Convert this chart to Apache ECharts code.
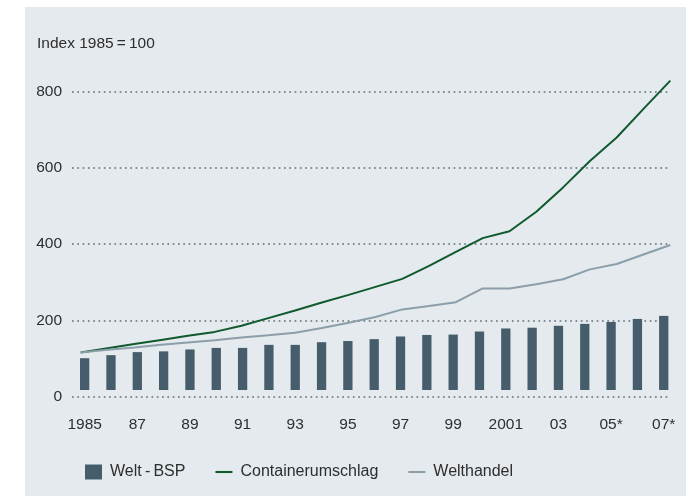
<!DOCTYPE html>
<html><head><meta charset="utf-8">
<script src="https://cdn.jsdelivr.net/npm/echarts@6/dist/echarts.min.js"></script>
<style>
html,body{margin:0;padding:0;background:#fff;}
#panel{position:absolute;left:25px;top:7px;width:661px;height:489px;background:#e5eaee;}
#chart{position:absolute;left:0;top:0;width:686px;height:496px;}
</style></head>
<body><div id="panel"></div><div id="chart"></div>
<script>
// ---- data ----
const categories = ['1985','86','87','88','89','90','91','92','93','94','95','96','97','98','99','00','2001','02','03','04','05*','06*','07*'];
const weltBSP = [101,109,117,119,124,128,128,136,136,143,146,151,158,162,163,171,179,181,186,191,196,204,212];
const containerumschlag = [116,127,138,149,160,170,186,206,226,247,267,288,309,343,380,416,434,485,549,618,680,755,829];
const welthandel = [116,123,129,136,142,148,155,161,168,180,194,209,229,238,248,284,284,295,308,334,348,373,398];
const yMin = 0, yMax = 800, yInterval = 200;
const seriesNames = ['Welt\u2009-\u2009BSP','Containerumschlag','Welthandel'];
const titleText = 'Index 1985\u2009=\u2009100';

// ---- style ----
const FONT = '"Liberation Sans", Arial, Helvetica, sans-serif';
const TXT = '#2e2e2e';
const BAR_BASE = 17.6; // bars start slightly above the zero line
const LINE_ICON = 'path://M0,0H18V2.2H0Z';

const chart = echarts.init(document.getElementById('chart'), null, {renderer:'canvas'});
chart.setOption({
  backgroundColor: 'transparent',
  animation: false,
  title: { text: titleText, left: 32, top: 31,
    textStyle: { fontFamily: FONT, fontSize: 15.5, fontWeight: 'normal', color: TXT } },
  legend: {
    left: 80, top: 459, itemWidth: 17, itemHeight: 15, itemGap: 30,
    data: [
      { name: seriesNames[0], icon: 'rect' },
      { name: seriesNames[1], icon: LINE_ICON },
      { name: seriesNames[2], icon: LINE_ICON }
    ],
    textStyle: { fontFamily: FONT, fontSize: 16, color: TXT, padding: [0,0,0,3] }
  },
  grid: [
    { left: 72, right: 18, top: 91.7, bottom: 99.3 },
    { left: 71.5, right: 9.1, top: 91.7, bottom: 106 },
    { left: 80.7, right: 15.7, top: 91.7, bottom: 99.3 }
  ],
  xAxis: [
    { gridIndex: 0, type: 'category', data: categories, show: false },
    { gridIndex: 1, type: 'category', data: categories, boundaryGap: true,
      axisLine: { show: false }, axisTick: { show: false },
      axisLabel: { interval: 1, margin: 27, fontFamily: FONT, fontSize: 15.5, color: TXT } },
    { gridIndex: 2, type: 'category', data: categories, boundaryGap: false, show: false }
  ],
  yAxis: [
    { gridIndex: 0, type: 'value', min: yMin, max: yMax, interval: yInterval,
      axisLine: { show: false }, axisTick: { show: false },
      axisLabel: { margin: 10, fontFamily: FONT, fontSize: 15.5, color: TXT, padding: [0,0,9,0] },
      splitLine: { show: true, lineStyle: { color: '#5f6f79', width: 1.7, type: [1.7, 3.6] } } },
    { gridIndex: 1, type: 'value', min: BAR_BASE, max: yMax, show: false, splitLine: { show: false } },
    { gridIndex: 2, type: 'value', min: yMin, max: yMax, show: false, splitLine: { show: false } }
  ],
  series: [
    { name: seriesNames[0], type: 'bar', xAxisIndex: 1, yAxisIndex: 1, data: weltBSP,
      barWidth: 9.3, clip: true, itemStyle: { color: '#465e6b' } },
    { name: seriesNames[1], type: 'line', xAxisIndex: 2, yAxisIndex: 2, data: containerumschlag,
      symbol: 'none', clip: false, lineStyle: { color: '#0f5a2d', width: 2 }, itemStyle: { color: '#0f5a2d' } },
    { name: seriesNames[2], type: 'line', xAxisIndex: 2, yAxisIndex: 2, data: welthandel,
      symbol: 'none', clip: false, lineStyle: { color: '#8b9ea9', width: 2 }, itemStyle: { color: '#8b9ea9' } }
  ]
});
</script></body></html>
